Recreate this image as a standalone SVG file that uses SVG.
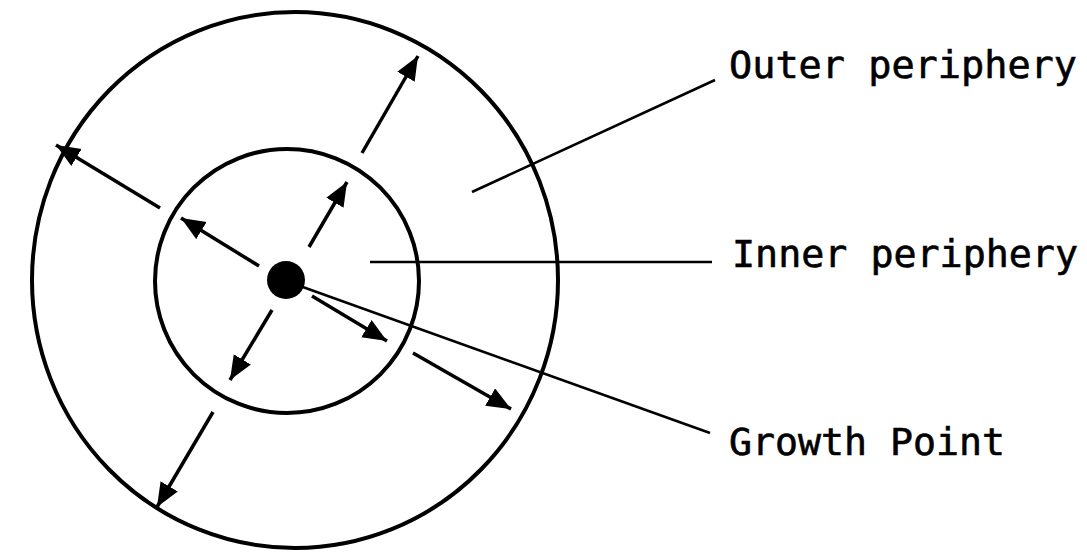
<svg xmlns="http://www.w3.org/2000/svg" width="1087" height="554" viewBox="0 0 1087 554">
<style>
.ring{fill:none;stroke:#000;stroke-width:4}
.arr{stroke:#000;stroke-width:3.5;fill:none;marker-end:url(#ah)}
.lead{stroke:#000;stroke-width:2.6;fill:none}
.lbl{font-family:"DejaVu Sans Mono","Liberation Mono",monospace;font-size:37px;fill:#000;stroke:#000;stroke-width:0.6}
</style>
<defs>
<marker id="ah" markerUnits="userSpaceOnUse" markerWidth="28" markerHeight="22" refX="24" refY="10" orient="auto">
<path d="M0,0 L24,10 L0,20 Z" fill="#000"/>
</marker>
</defs>
<rect width="1087" height="554" fill="#fff"/>
<g id="outer-periphery"><ellipse class="ring" cx="295" cy="280" rx="263" ry="268"/></g>
<g id="inner-periphery"><circle class="ring" cx="287" cy="281" r="132"/></g>
<g id="growth-point"><circle cx="286" cy="280" r="19" fill="#000"/></g>
<g id="connectors">
<line class="arr" x1="259" y1="266" x2="181" y2="218"/>
<line class="arr" x1="309" y1="247" x2="347" y2="182"/>
<line class="arr" x1="272" y1="310" x2="230" y2="380"/>
<line class="arr" x1="312" y1="296" x2="387" y2="341"/>
<line class="arr" x1="160" y1="208" x2="56" y2="145"/>
<line class="arr" x1="362" y1="153" x2="418" y2="56"/>
<line class="arr" x1="213" y1="412" x2="157" y2="507"/>
<line class="arr" x1="413" y1="353" x2="511" y2="409"/>
<line class="lead" x1="472" y1="192" x2="715" y2="80"/>
<line class="lead" x1="370" y1="262" x2="712" y2="262"/>
<line class="lead" x1="300" y1="286" x2="710" y2="433"/>
</g>
<g id="labels">
<text class="lbl" x="729" y="78" textLength="348" lengthAdjust="spacingAndGlyphs">Outer periphery</text>
<text class="lbl" x="732" y="267" textLength="346" lengthAdjust="spacingAndGlyphs">Inner periphery</text>
<text class="lbl" x="729" y="455" textLength="276" lengthAdjust="spacingAndGlyphs">Growth Point</text>
</g>
</svg>
